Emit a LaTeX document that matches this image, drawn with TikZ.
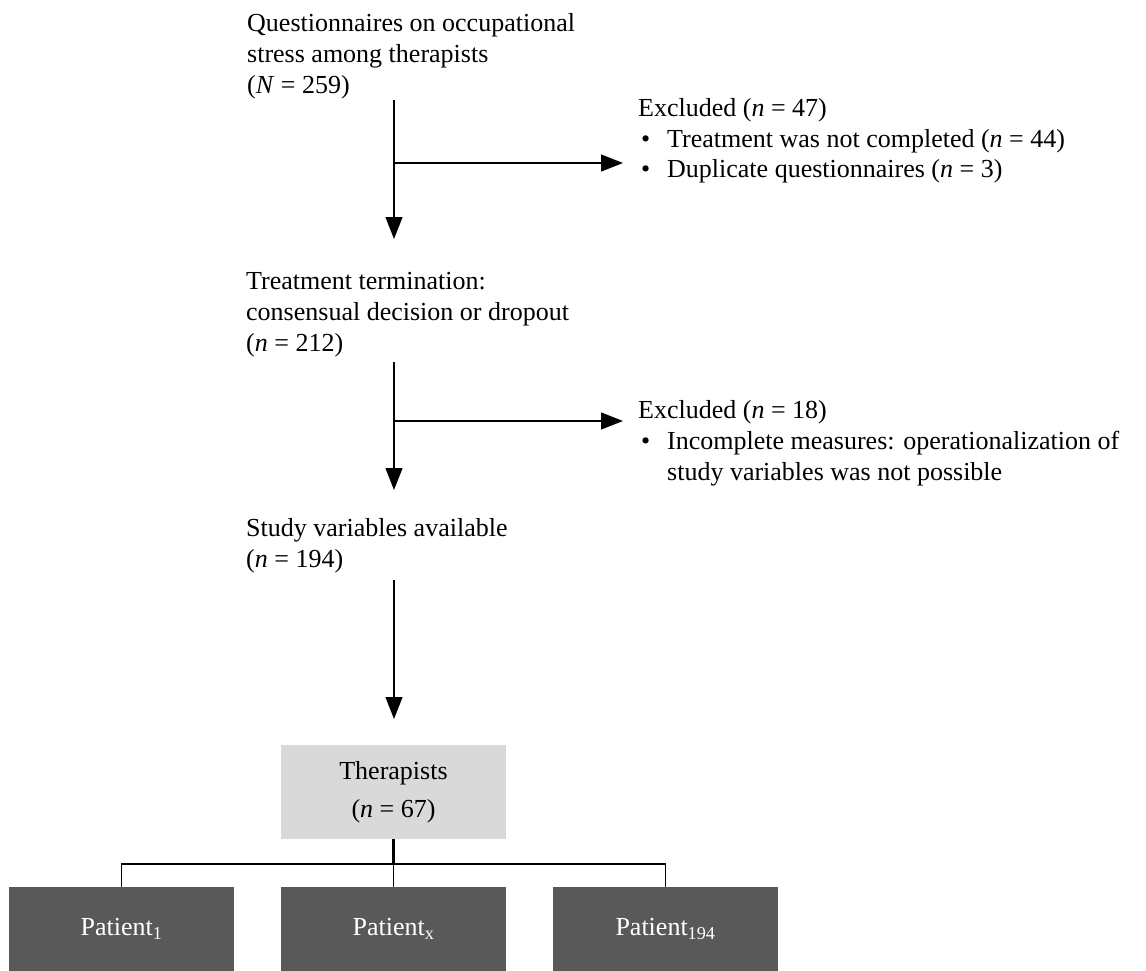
\documentclass[tikz,border=0pt]{standalone}
\usepackage{fontspec}
\setmainfont{Liberation Serif}
\usetikzlibrary{arrows.meta}
\definecolor{lightbox}{HTML}{D9D9D9}
\definecolor{darkbox}{HTML}{595959}
\begin{document}
\begin{tikzpicture}[x=1pt,y=-1pt,
  txt/.style={anchor=base west,inner sep=0pt,align=left,font={\fontsize{26}{31}\selectfont}},
  arr/.style={line width=1.3pt,-{Triangle[length=22pt,width=17pt]}},
  thbox/.style={fill=lightbox,minimum width=225pt,minimum height=94pt,inner sep=0pt},
  thtext/.style={anchor=base,inner sep=0pt,align=center,font={\fontsize{26}{38}\selectfont}},
  ptbox/.style={fill=darkbox,text=white,minimum width=225pt,minimum height=84pt,inner sep=0pt,font={\fontsize{26}{31}\selectfont}}]
\useasboundingbox (0,0) rectangle (1146,971);
% text blocks (anchor = baseline of the last line)
\node[txt] (b1) at (247,94) {Questionnaires on occupational\\stress among therapists\\(\textit{N} = 259)};
\node[txt] (e1) at (638,178) {Excluded (\textit{n} = 47)\\\makebox[29pt][l]{\hspace{3pt}\textbullet}Treatment was not completed (\textit{n} = 44)\\\makebox[29pt][l]{\hspace{3pt}\textbullet}Duplicate questionnaires (\textit{n} = 3)};
\node[txt] (b2) at (246,351) {Treatment termination:\\consensual decision or dropout\\(\textit{n} = 212)};
\node[txt] (e2) at (638,480) {Excluded (\textit{n} = 18)\\\makebox[29pt][l]{\hspace{3pt}\textbullet}Incomplete measures: operationalization of\\\hspace*{29pt}study variables was not possible};
\node[txt] (b3) at (246,567) {Study variables available\\(\textit{n} = 194)};
% coordinates for connectors
\coordinate (a1s) at (394,100);
\coordinate (a1e) at (394,239);
\coordinate (a1b) at (394,163);
\coordinate (a1t) at (623,163);
\coordinate (a2s) at (394,362);
\coordinate (a2e) at (394,490);
\coordinate (a2b) at (394,421);
\coordinate (a2t) at (623,421);
\coordinate (a3s) at (394,580);
\coordinate (a3e) at (394,719);
% arrows
\draw[arr] (a1s) -- (a1e);
\draw[arr] (a1b) -- (a1t);
\draw[arr] (a2s) -- (a2e);
\draw[arr] (a2b) -- (a2t);
\draw[arr] (a3s) -- (a3e);
% boxes
\node[thbox] (ther) at (393.5,792) {};
\node[thtext] (thert) at (393.5,817) {Therapists\\(\textit{n} = 67)};
\node[ptbox] (p1) at (121.5,929) {\raisebox{-2pt}{Patient\textsubscript{1}}};
\node[ptbox] (px) at (393.5,929) {\raisebox{-2pt}{Patient\textsubscript{x}}};
\node[ptbox] (p194) at (665.5,929) {\raisebox{-2pt}{Patient\textsubscript{194}}};
\coordinate (hub) at (393.5,864);
\draw[line width=3pt] (ther.south) -- (hub);
\draw[line width=1.8pt] (p1.north) |- (hub) -| (p194.north);
\draw[line width=1.6pt] (hub) -- (px.north);
\end{tikzpicture}
\end{document}
